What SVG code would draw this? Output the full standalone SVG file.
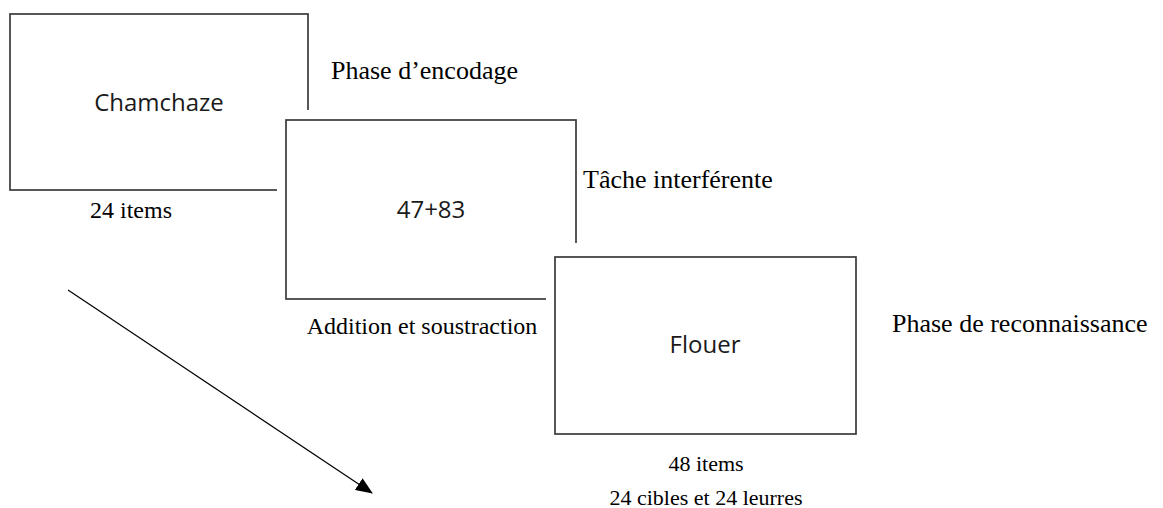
<svg xmlns="http://www.w3.org/2000/svg" width="1163" height="508" viewBox="0 0 1163 508">
<defs>
<style>
.box{fill:#fff;stroke:#3a3a3a;stroke-width:1.7}
.halo{fill:#fff;stroke:none}
.sans{font-family:"Open Sans","Noto Sans",sans-serif;font-size:24px;fill:#1a1a1a;text-anchor:middle}
.serif{font-family:"Liberation Serif","Times New Roman",serif;font-size:24px;fill:#000}
.phase{font-size:26px}
.small{font-size:22px}
.mid{text-anchor:middle}
</style>
<marker id="arr" markerWidth="17" markerHeight="14" refX="16" refY="7" orient="auto" markerUnits="userSpaceOnUse" viewBox="0 0 17 14">
<path d="M0,0 L17,7 L0,14 z" fill="#000"/>
</marker>
</defs>
<rect width="1163" height="508" fill="#fff"/>
<g id="node-encodage">
<rect class="box" x="10" y="14" width="298" height="176"/>
<text class="sans" x="159" y="111">Chamchaze</text>
<text class="serif phase" x="331" y="79">Phase d’encodage</text>
<text class="serif mid" x="131" y="218">24 items</text>
</g>
<g id="node-interference">
<rect class="halo" x="277" y="110" width="308" height="198"/>
<rect class="box" x="286" y="120" width="290" height="179"/>
<text class="sans" x="431" y="218">47+83</text>
<text class="serif phase" x="583" y="188">Tâche interférente</text>
<text class="serif mid" x="422" y="334">Addition et soustraction</text>
</g>
<g id="node-reconnaissance">
<rect class="halo" x="546" y="243" width="320" height="200"/>
<rect class="box" x="555" y="257" width="301" height="177"/>
<text class="sans" x="705" y="353">Flouer</text>
<text class="serif phase" x="892" y="332">Phase de reconnaissance</text>
<text class="serif mid small" x="706" y="471">48 items</text>
<text class="serif mid small" x="706" y="505">24 cibles et 24 leurres</text>
</g>
<g id="connectors">
<line x1="68" y1="290" x2="372" y2="493" stroke="#000" stroke-width="1.2" marker-end="url(#arr)"/>
</g>
</svg>
